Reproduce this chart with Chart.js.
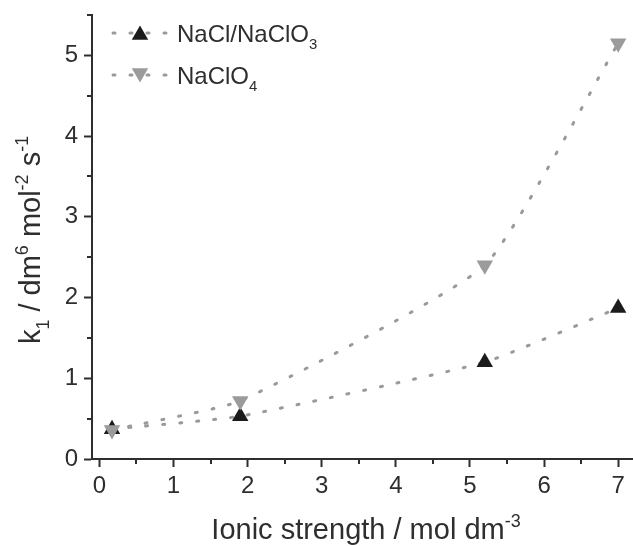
<!DOCTYPE html>
<html>
<head>
<meta charset="utf-8">
<script src="https://cdn.jsdelivr.net/npm/chart.js@4.4.1/dist/chart.umd.min.js"></script>
<style>
  html, body { margin: 0; padding: 0; background: #fff; }
  #wrap { width: 633px; height: 546px; }
</style>
</head>
<body>
<div id="wrap"><canvas id="chart" width="633" height="546"></canvas></div>
<script>
// data
const ionicStrength   = [0.17, 1.9, 5.2, 7.0];
const naclValues      = [0.37, 0.53, 1.2, 1.87];
const perchlorValues  = [0.36, 0.72, 2.4, 5.15];
const xTickLabels     = [0, 1, 2, 3, 4, 5, 6, 7];
const yTickLabels     = [0, 1, 2, 3, 4, 5];

const AXIS = '#2e2e2e';
const DOTS = '#9a9a9a';
const FONT = '"Liberation Sans", Arial, sans-serif';

// draws a run of [text, kind] pieces, kind: 0 normal, 1 sup, -1 sub
function richText(ctx, parts, size) {
  let w = 0;
  const measured = parts.map(([t, k]) => {
    const s = k ? size * 0.62 : size;
    ctx.font = `${s}px ${FONT}`;
    const m = ctx.measureText(t).width;
    w += m;
    return { t, k, s, m };
  });
  return {
    width: w,
    draw(x, y) {
      let cx = x;
      measured.forEach(p => {
        ctx.font = `${p.s}px ${FONT}`;
        const dy = p.k === 1 ? -size * 0.42 : p.k === -1 ? size * 0.3 : 0;
        ctx.fillText(p.t, cx, y + dy);
        cx += p.m;
      });
    },
  };
}

function triangle(ctx, x, y, r, rot, color) {
  let rad = rot * Math.PI / 180;
  ctx.beginPath();
  ctx.moveTo(x + Math.sin(rad) * r, y - Math.cos(rad) * r);
  for (let i = 0; i < 2; i++) {
    rad += 2 * Math.PI / 3;
    ctx.lineTo(x + Math.sin(rad) * r, y - Math.cos(rad) * r);
  }
  ctx.closePath();
  ctx.fillStyle = color;
  ctx.fill();
}

const extras = {
  id: 'extras',
  afterDraw(chart) {
    const { ctx, scales: { x, y } } = chart;
    ctx.save();

    // minor ticks
    ctx.strokeStyle = AXIS; ctx.lineWidth = 2;
    x.ticks.forEach(t => {
      if (xTickLabels.includes(t.value)) return;
      const px = Math.round(x.getPixelForValue(t.value));
      ctx.beginPath(); ctx.moveTo(px, x.top); ctx.lineTo(px, x.top + 5); ctx.stroke();
    });
    y.ticks.forEach(t => {
      if (yTickLabels.includes(t.value)) return;
      const py = Math.round(y.getPixelForValue(t.value));
      ctx.beginPath(); ctx.moveTo(y.right, py); ctx.lineTo(y.right - 5, py); ctx.stroke();
    });

    // axis titles
    ctx.fillStyle = AXIS;
    ctx.textBaseline = 'alphabetic';
    ctx.textAlign = 'left';
    const xt = richText(ctx, [['Ionic strength / mol dm', 0], ['-3', 1]], 29);
    xt.draw(366 - xt.width / 2, 539);

    ctx.save();
    ctx.translate(40, 240);
    ctx.rotate(-Math.PI / 2);
    const yt = richText(ctx, [['k', 0], ['1', -1], [' / dm', 0], ['6', 1], [' mol', 0], ['-2', 1], [' s', 0], ['-1', 1]], 29);
    yt.draw(-yt.width / 2, 0);
    ctx.restore();

    // legend inside the plot, top left
    const rows = [
      { y: 33, parts: [['NaCl/NaClO', 0], ['3', -1]] },
      { y: 75, parts: [['NaClO', 0], ['4', -1]] },
    ];
    chart.data.datasets.forEach((ds, i) => {
      const r = rows[i];
      ctx.save();
      ctx.strokeStyle = ds.borderColor; ctx.lineWidth = ds.borderWidth;
      ctx.lineCap = 'round'; ctx.setLineDash(ds.borderDash);
      ctx.beginPath(); ctx.moveTo(113, r.y); ctx.lineTo(170, r.y); ctx.stroke();
      ctx.restore();
      triangle(ctx, 140, r.y + (ds.pointRotation ? -2 : 2), ds.pointRadius, ds.pointRotation, ds.pointBackgroundColor);
      ctx.fillStyle = AXIS;
      richText(ctx, r.parts, 24).draw(177, r.y + 9);
    });

    ctx.restore();
  },
};

new Chart(document.getElementById('chart'), {
  type: 'line',
  data: {
    datasets: [
      {
        label: 'NaCl/NaClO3',
        data: ionicStrength.map((v, i) => ({ x: v, y: naclValues[i] })),
        borderColor: DOTS, borderWidth: 3, borderDash: [2, 15], borderCapStyle: 'round',
        tension: 0.15,
        pointStyle: 'triangle', pointRotation: 0, pointRadius: 9.5,
        pointBackgroundColor: '#1b1b1b', pointBorderWidth: 0,
        order: 1,
      },
      {
        label: 'NaClO4',
        data: ionicStrength.map((v, i) => ({ x: v, y: perchlorValues[i] })),
        borderColor: DOTS, borderWidth: 3, borderDash: [2, 15], borderCapStyle: 'round',
        tension: 0.15,
        pointStyle: 'triangle', pointRotation: 180, pointRadius: 9.5,
        pointBackgroundColor: '#9b9b9b', pointBorderWidth: 0,
        order: 0,
      },
    ],
  },
  options: {
    responsive: false,
    animation: false,
    devicePixelRatio: 1,
    layout: { autoPadding: false, padding: { top: 15, right: 0, left: 0, bottom: 0 } },
    plugins: { legend: { display: false }, tooltip: { enabled: false } },
    scales: {
      x: {
        type: 'linear', min: -0.1, max: 7.2,
        afterFit: s => { s.height = 87; s.paddingLeft = 0; s.paddingRight = 0; },
        border: { color: AXIS, width: 2 },
        grid: {
          drawOnChartArea: false, tickLength: 8, tickWidth: 2,
          tickColor: c => xTickLabels.includes(c.tick.value) ? AXIS : 'rgba(0,0,0,0)',
        },
        ticks: {
          stepSize: 0.5, includeBounds: false, autoSkip: false, maxRotation: 0,
          padding: 5, color: AXIS, font: { family: FONT, size: 24 },
          callback: v => xTickLabels.includes(v) ? String(v) : '',
        },
      },
      y: {
        type: 'linear', min: 0, max: 5.5,
        afterFit: s => { s.width = 92; s.paddingTop = 0; s.paddingBottom = 0; },
        border: { color: AXIS, width: 2 },
        grid: {
          drawOnChartArea: false, tickLength: 8, tickWidth: 2,
          tickColor: c => yTickLabels.includes(c.tick.value) ? AXIS : 'rgba(0,0,0,0)',
        },
        ticks: {
          stepSize: 0.5, autoSkip: false,
          padding: 6, color: AXIS, font: { family: FONT, size: 24 },
          callback: v => yTickLabels.includes(v) ? String(v) : '',
        },
      },
    },
  },
  plugins: [extras],
});
</script>
</body>
</html>
